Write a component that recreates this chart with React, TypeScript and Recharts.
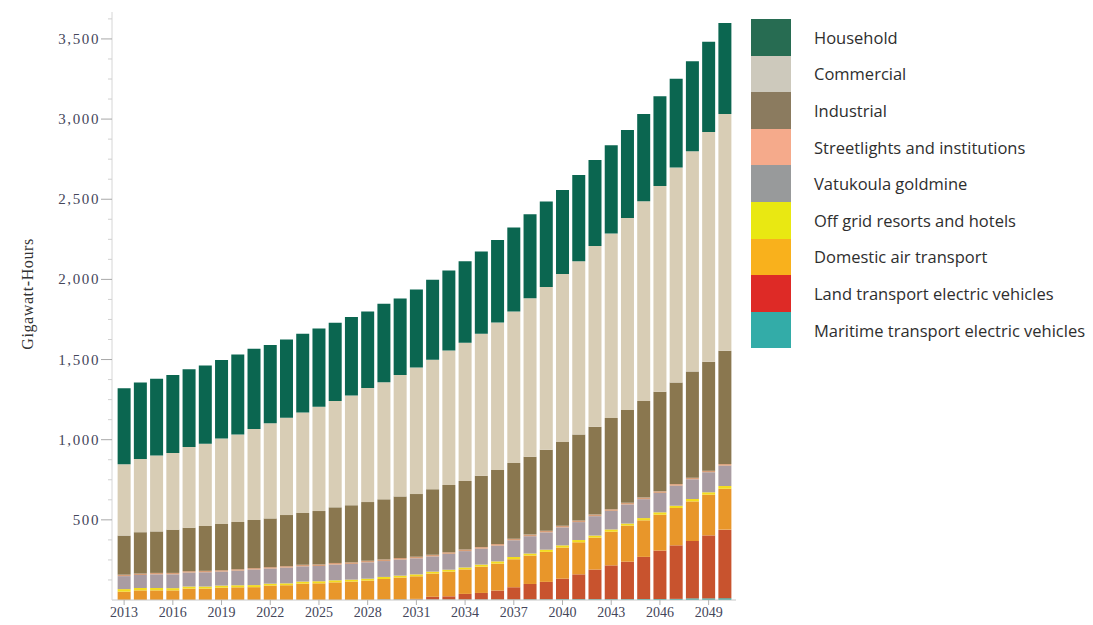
import { BarChart, Bar, XAxis, YAxis, Label } from 'recharts'

const years = [
  '2013', '2014', '2015', '2016', '2017', '2018', '2019', '2020', '2021', '2022',
  '2023', '2024', '2025', '2026', '2027', '2028', '2029', '2030', '2031', '2032',
  '2033', '2034', '2035', '2036', '2037', '2038', '2039', '2040', '2041', '2042',
  '2043', '2044', '2045', '2046', '2047', '2048', '2049', '2050',
]

// GWh by sector
const maritime = [
  0, 0, 0, 0, 0, 0, 0, 0, 0, 0, 0, 0, 0, 0, 0, 0,
  3, 3, 3, 3, 3, 3, 3, 3, 3, 4, 4, 5, 5, 5, 5, 5, 6, 6, 7, 10, 10, 11,
]
const landEv = [
  0, 0, 0, 0, 0, 0, 0, 0, 0, 0, 0, 0, 0, 0, 0, 0,
  2, 2, 4, 17, 20, 35, 41, 56, 77, 96, 109, 128, 155, 185, 211, 234, 263, 302, 334, 358, 393, 428,
]
const domesticAir = [
  52, 60, 60, 60, 71, 71, 77, 79, 80, 90, 92, 102, 104, 110, 115, 121, 126, 135, 141, 145,
  154, 153, 164, 168, 174, 177, 187, 194, 200, 199, 210, 225, 228, 224, 233, 247, 254, 255,
]
const offGrid = [
  16, 15, 15, 14, 13, 13, 13, 13, 13, 12, 12, 13, 13, 13, 12, 12, 13, 12, 12, 12,
  12, 12, 13, 14, 14, 13, 14, 14, 14, 13, 14, 13, 14, 15, 14, 15, 15, 17,
]
const goldmine = [
  81, 81, 85, 86, 87, 89, 87, 91, 97, 94, 98, 95, 95, 98, 98, 102, 99, 100, 100, 95,
  99, 102, 99, 98, 104, 108, 108, 112, 112, 121, 116, 119, 118, 121, 125, 123, 125, 127,
]
const streetlights = [
  9, 9, 9, 9, 9, 9, 9, 9, 9, 9, 9, 10, 10, 10, 10, 10, 10, 10, 10, 10,
  10, 10, 10, 10, 10, 10, 10, 10, 10, 10, 10, 10, 10, 10, 10, 10, 10, 10,
]
const industrial = [
  244, 258, 259, 270, 271, 280, 288, 295, 300, 304, 319, 323, 333, 347, 356, 366, 375, 384, 391, 409,
  420, 428, 445, 462, 473, 485, 506, 522, 536, 547, 569, 579, 602, 621, 634, 663, 680, 707,
]
const commercial = [
  445, 457, 474, 478, 503, 513, 534, 546, 568, 593, 607, 627, 651, 664, 685, 711, 731, 757, 790, 808,
  838, 861, 886, 920, 944, 989, 1014, 1048, 1081, 1128, 1152, 1198, 1246, 1283, 1341, 1374, 1432, 1477,
]
const household = [
  474, 477, 478, 486, 486, 488, 489, 499, 500, 488, 488, 491, 488, 487, 489, 478, 489, 478, 486, 498,
  500, 509, 513, 514, 524, 524, 534, 525, 538, 537, 549, 549, 544, 561, 554, 561, 563, 567,
]

const yTicks = Array.from({ length: 29 }, (_, i) => (i + 1) * 125)

// bottom to top
const series = [
  { key: 'maritime', name: 'Maritime transport electric vehicles', values: maritime, fill: '#2ba69e', legend: '#33aca8' },
  { key: 'land', name: 'Land transport electric vehicles', values: landEv, fill: '#c8532e', legend: '#de2a26' },
  { key: 'air', name: 'Domestic air transport', values: domesticAir, fill: '#e8962a', legend: '#f9b11c' },
  { key: 'offgrid', name: 'Off grid resorts and hotels', values: offGrid, fill: '#f3dc1f', legend: '#e9e812' },
  { key: 'gold', name: 'Vatukoula goldmine', values: goldmine, fill: '#a99ca2', legend: '#989a9b' },
  { key: 'street', name: 'Streetlights and institutions', values: streetlights, fill: '#d89e78', legend: '#f5aa8b' },
  { key: 'industrial', name: 'Industrial', values: industrial, fill: '#8a774f', legend: '#8b7b5f' },
  { key: 'commercial', name: 'Commercial', values: commercial, fill: '#d8cdb5', legend: '#cdc9bc' },
  { key: 'household', name: 'Household', values: household, fill: '#0b6650', legend: '#276c52' },
]

const data = years.map((year, i) => {
  const row: Record<string, string | number> = { year }
  series.forEach((s) => {
    row[s.key] = s.values[i]
  })
  return row
})

// eslint-disable-next-line @typescript-eslint/no-explicit-any
function YTick({ x, y, payload }: any) {
  const v = payload.value as number
  const axisX = x + 12
  const major = v % 500 === 0
  return (
    <g>
      <line
        x1={major ? axisX - 11 : axisX - 4}
        x2={axisX}
        y1={y}
        y2={y}
        stroke={major ? '#a8a8a8' : '#d0d0d0'}
      />
      {major && (
        <text
          x={x}
          y={y}
          dy={5}
          textAnchor="end"
          fill="#44465a"
          fontSize={15}
          letterSpacing={1.6}
          fontFamily="'Liberation Serif', serif"
        >
          {v.toLocaleString('en-US')}
        </text>
      )}
    </g>
  )
}

function LegendBox() {
  return (
    <div
      style={{
        position: 'absolute',
        left: 751,
        top: 19,
        fontFamily: "'Open Sans', sans-serif",
        fontSize: 16.5,
        color: '#2e2e2e',
      }}
    >
      {[...series].reverse().map((s) => (
        <div key={s.key} style={{ display: 'flex', alignItems: 'center', height: 36.6 }}>
          <div style={{ width: 40, height: 36.6, background: s.legend }} />
          <span style={{ marginLeft: 23, whiteSpace: 'nowrap' }}>{s.name}</span>
        </div>
      ))}
    </div>
  )
}

export default function App() {
  return (
    <div style={{ position: 'absolute', left: 0, top: 0, width: 1093, height: 625, background: '#fff' }}>
      <BarChart
        width={1093}
        height={625}
        data={data}
        margin={{ top: 12, right: 357, bottom: 1, left: 52 }}
        barCategoryGap="10%"
      >
        <XAxis
          dataKey="year"
          interval={2}
          height={24}
          padding={{ left: 4, right: 3 }}
          axisLine={{ stroke: '#c8c8c8' }}
          tickLine={{ stroke: '#b0b0b0' }}
          tickSize={5}
          tick={{ fill: '#44465a', fontSize: 14, fontFamily: "'Liberation Serif', serif" }}
        />
        <XAxis
          xAxisId="top"
          dataKey="year"
          orientation="top"
          height={0}
          tick={false}
          tickLine={false}
          axisLine={{ stroke: '#dcdcdc' }}
        />
        <YAxis
          width={60}
          domain={[0, 3668]}
          ticks={yTicks}
          interval={0}
          tickSize={11}
          tickMargin={1}
          tickLine={false}
          axisLine={{ stroke: '#d6d6d6' }}
          tick={<YTick />}
        >
          <Label
            content={() => (
              <text
                x={33}
                y={294}
                transform="rotate(-90 33 294)"
                textAnchor="middle"
                fill="#333"
                fontSize={16}
                letterSpacing={0.6}
                fontFamily="'Liberation Serif', serif"
              >
                Gigawatt-Hours
              </text>
            )}
          />
        </YAxis>
        <YAxis
          yAxisId="right"
          orientation="right"
          width={0}
          domain={[0, 3668]}
          tick={false}
          tickLine={false}
          axisLine={{ stroke: '#dcdcdc' }}
        />
        {series.map((s) => (
          <Bar
            key={s.key}
            dataKey={s.key}
            name={s.name}
            stackId="a"
            fill={s.fill}
            isAnimationActive={false}
          />
        ))}
      </BarChart>
      <LegendBox />
    </div>
  )
}
